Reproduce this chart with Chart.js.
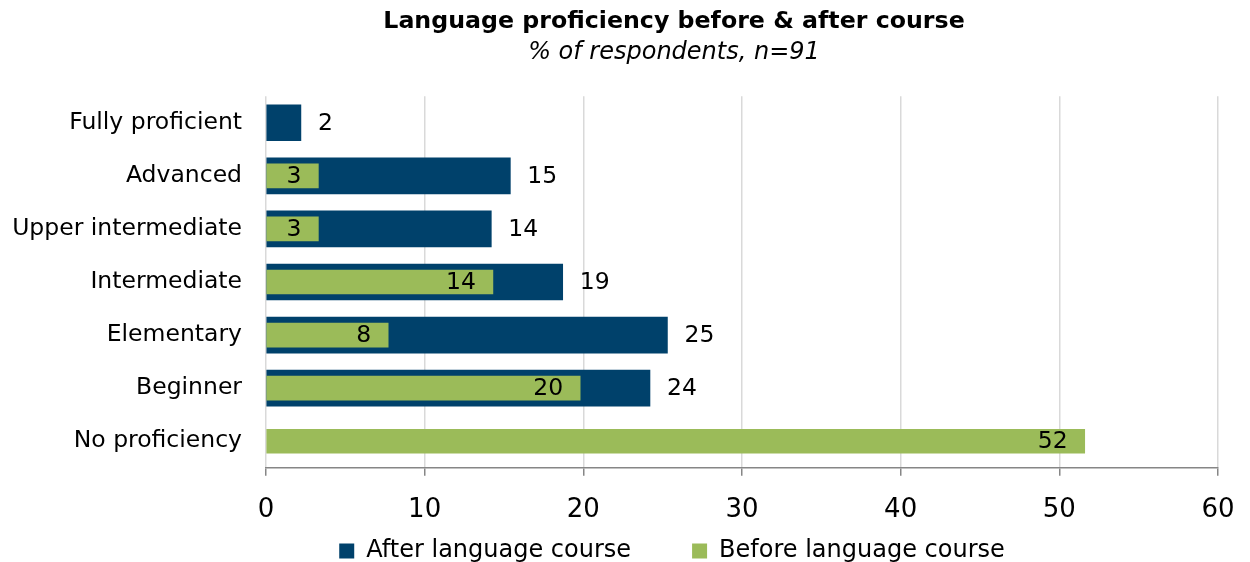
<!DOCTYPE html>
<html>
<head>
<meta charset="utf-8">
<script src="https://cdn.jsdelivr.net/npm/chart.js@4.4.1/dist/chart.umd.min.js"></script>
<style>
  html, body { margin: 0; padding: 0; background: #fff; }
  #wrap { width: 1250px; height: 562px; }
</style>
</head>
<body>
<div id="wrap"><canvas id="chart"></canvas></div>
<script>
// chart data
const categories = ['Fully proficient', 'Advanced', 'Upper intermediate', 'Intermediate', 'Elementary', 'Beginner', 'No proficiency'];
const afterValues = [2.2, 15.4, 14.2, 18.7, 25.3, 24.2, null];
const beforeValues = [null, 3.3, 3.3, 14.3, 7.7, 19.8, 51.6];
const xTicks = [0, 10, 20, 30, 40, 50, 60];

const FONT = "'DejaVu Sans', Verdana, sans-serif";
const LEGEND_GAP = 61;

// draw the value labels next to / inside the bars
const valueLabels = {
  id: 'valueLabels',
  afterDatasetsDraw(chart) {
    const ctx = chart.ctx;
    ctx.save();
    ctx.font = '23.5px ' + FONT;
    ctx.fillStyle = '#000';
    ctx.textBaseline = 'middle';
    chart.data.datasets.forEach((ds, i) => {
      const meta = chart.getDatasetMeta(i);
      meta.data.forEach((bar, j) => {
        const v = ds.data[j];
        if (v === null || v === undefined) return;
        const txt = String(Math.round(v));
        if (ds.labelInside) {
          ctx.textAlign = 'right';
          ctx.fillText(txt, bar.x - 17, bar.y + 1);
        } else {
          ctx.textAlign = 'left';
          ctx.fillText(txt, bar.x + 17, bar.y + 1);
        }
      });
    });
    ctx.restore();
  }
};

// move titles and legend so they sit where the original puts them
const placeBlocks = {
  id: 'placeBlocks',
  afterLayout(chart) {
    chart.boxes.forEach(b => {
      if (b.axis) return;
      if (b === chart.legend) {
        b.left = 122; b.right = 1222;
        b.top = 549 - LEGEND_GAP - 10; b.bottom = b.top + b.height;
      } else {
        b.left = 130; b.right = 1218;
      }
      b.width = b.right - b.left;
    });
  }
};

new Chart(document.getElementById('chart'), {
  type: 'bar',
  data: {
    labels: categories,
    datasets: [
      {
        label: 'Before language course',
        data: beforeValues,
        backgroundColor: '#9bbb59',
        barThickness: 24,
        grouped: false,
        labelInside: true
      },
      {
        label: 'After language course',
        data: afterValues,
        backgroundColor: '#00416b',
        barThickness: 36,
        grouped: false
      }
    ]
  },
  options: {
    indexAxis: 'y',
    responsive: true,
    maintainAspectRatio: false,
    animation: false,
    layout: { padding: { left: 0, right: 32, top: 0, bottom: -78 } },
    plugins: {
      title: {
        display: true,
        text: 'Language proficiency before & after course',
        color: '#000',
        font: { family: FONT, size: 23.7, weight: 'bold', lineHeight: 1.2 },
        padding: { top: 8, bottom: 2 }
      },
      subtitle: {
        display: true,
        text: '% of respondents, n=91',
        color: '#000',
        font: { family: FONT, size: 24, style: 'italic', lineHeight: 1.2 },
        padding: { top: 0, bottom: 29 }
      },
      legend: {
        position: 'bottom',
        labels: {
          color: '#000',
          font: { family: FONT, size: 24 },
          boxWidth: 15,
          boxHeight: 15,
          padding: LEGEND_GAP,
          sort: (a, b) => b.datasetIndex - a.datasetIndex
        }
      },
      tooltip: { enabled: false }
    },
    scales: {
      x: {
        min: 0,
        max: 60,
        afterBuildTicks: (scale) => { scale.ticks = xTicks.map(v => ({ value: v })); },
        afterFit: (scale) => { scale.paddingRight = 32; },
        grid: { color: '#d9d9d9', tickColor: '#868686', tickLength: 8, lineWidth: 1.5 },
        border: { color: '#868686', width: 1.5 },
        ticks: { color: '#000', font: { family: FONT, size: 26 }, padding: 19, maxRotation: 0 }
      },
      y: {
        grid: { display: false, drawTicks: false },
        border: { display: false },
        afterFit: (scale) => { scale.width = 266; },
        ticks: { color: '#000', font: { family: FONT, size: 23.5 }, padding: 24 }
      }
    }
  },
  plugins: [valueLabels, placeBlocks]
});
</script>
</body>
</html>
